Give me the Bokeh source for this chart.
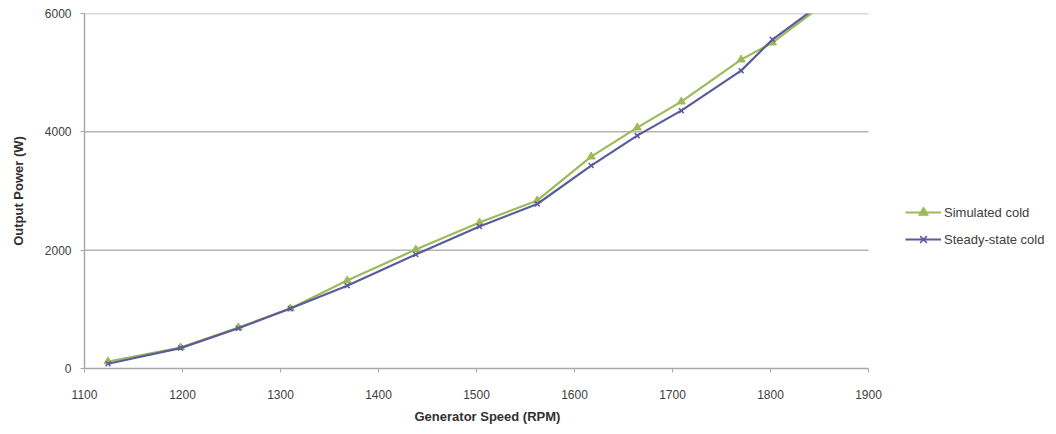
from bokeh.plotting import figure
from bokeh.models import FixedTicker, Legend, LegendItem, Range1d, Title
from bokeh.embed import file_html
from bokeh.resources import INLINE

# Generator speed (RPM) and output power (W) for the two cold runs
speed_sim = [1124, 1198, 1257, 1310, 1368, 1438, 1503, 1562, 1617, 1664, 1709, 1770, 1802, 1848]
power_sim = [118, 355, 693, 1014, 1486, 2010, 2466, 2840, 3580, 4071, 4510, 5220, 5507, 6080]

speed_ss = [1124, 1198, 1257, 1310, 1368, 1438, 1503, 1562, 1617, 1664, 1709, 1770, 1802, 1848]
power_ss = [80, 345, 680, 1014, 1400, 1926, 2400, 2780, 3430, 3936, 4358, 5034, 5560, 6120]

x_ticks = [1100, 1200, 1300, 1400, 1500, 1600, 1700, 1800, 1900]
y_ticks = [0, 2000, 4000, 6000]

GREEN = "#9bbb59"
NAVY = "#5a5a9c"
TEXT = "#404040"
FONT = "Liberation Sans"

x_lo, x_hi = x_ticks[0], x_ticks[-1]
# The frame runs on past the last tick so the legend can sit to the right of the axes
frame_px = 1056 - 84
axis_px = 784
x_view_end = x_lo + (x_hi - x_lo) * frame_px / axis_px

p = figure(width=1056, height=434, output_backend="svg", toolbar_location=None,
           x_range=Range1d(x_lo, x_view_end), y_range=Range1d(0, 6000),
           min_border_left=84, min_border_right=0, min_border_top=13, min_border_bottom=66)
p.outline_line_color = None
p.background_fill_color = "white"
p.border_fill_color = "white"

p.xgrid.grid_line_color = None
p.ygrid.grid_line_color = None

# horizontal gridlines limited to the axis span
grid_y = [t for t in y_ticks if t > 0]
p.segment(x0=[x_lo] * len(grid_y), y0=grid_y, x1=[x_hi] * len(grid_y), y1=grid_y,
          line_color="#b4b4b4", line_width=1.5)

p.xaxis.ticker = FixedTicker(ticks=x_ticks)
p.yaxis.ticker = FixedTicker(ticks=y_ticks)
p.xaxis.bounds = (x_lo, x_hi)
for ax in (p.xaxis, p.yaxis):
    ax.axis_line_color = "#a8a8a8"
    ax.axis_line_width = 1.5
    ax.major_tick_line_color = "#a8a8a8"
    ax.major_tick_out = 4
    ax.major_tick_in = 0
    ax.minor_tick_line_color = None
    ax.major_label_text_font = FONT
    ax.major_label_text_font_size = "12px"
    ax.major_label_text_color = TEXT
p.xaxis.major_label_standoff = 17
p.yaxis.major_label_standoff = 9

p.yaxis.axis_label = "Output Power (W)"
p.yaxis.axis_label_text_font = FONT
p.yaxis.axis_label_text_font_size = "13px"
p.yaxis.axis_label_text_font_style = "bold"
p.yaxis.axis_label_text_color = "#303030"
p.yaxis.axis_label_standoff = 16

# x-axis title, centred under the axis span rather than the wider frame
x_title = Title(text="Generator Speed (RPM)", align="left", offset=330, standoff=11,
                text_font=FONT, text_font_size="13px", text_font_style="bold",
                text_color="#303030")
p.add_layout(x_title, "below")

l1 = p.line(speed_sim, power_sim, line_color=GREEN, line_width=2.2)
m1 = p.scatter(speed_sim, power_sim, marker="triangle", size=8,
               fill_color=GREEN, line_color=GREEN)
l2 = p.line(speed_ss, power_ss, line_color=NAVY, line_width=2.2)
m2 = p.scatter(speed_ss, power_ss, marker="x", size=7, line_color=NAVY, line_width=1.5)

legend = Legend(items=[LegendItem(label="Simulated cold", renderers=[l1, m1]),
                       LegendItem(label="Steady-state cold", renderers=[l2, m2])],
                location=(821, 117), orientation="vertical")
legend.border_line_color = None
legend.background_fill_alpha = 0
legend.padding = 0
legend.margin = 0
legend.spacing = 3
legend.glyph_width = 36
legend.glyph_height = 24
legend.label_height = 24
legend.label_standoff = 3
legend.label_text_font = FONT
legend.label_text_font_size = "13px"
legend.label_text_color = TEXT
p.add_layout(legend, "center")

open("out.html", "w").write(file_html(p, INLINE))
